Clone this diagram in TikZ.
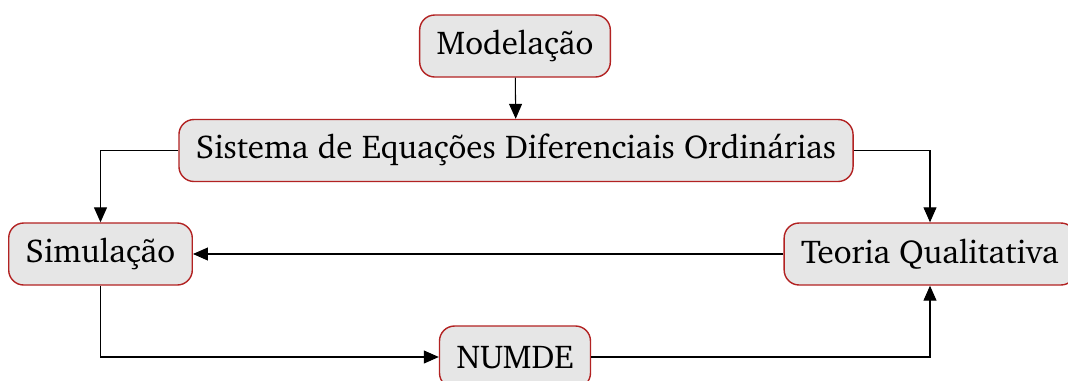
\documentclass[tikz,border=0pt]{standalone}
\usepackage[T1]{fontenc}
\usepackage{charter}
\usetikzlibrary{arrows.meta}

\definecolor{caixafundo}{HTML}{E6E6E6}
\definecolor{caixaborda}{HTML}{B22222}

\tikzset{
  caixa/.style={draw=caixaborda, fill=caixafundo, line width=0.8pt,
    rounded corners=0.3cm, minimum height=1.24cm, inner xsep=0.34cm,
    font=\fontsize{18.8}{22}\selectfont},
  seta/.style={-{Triangle[length=0.3cm,width=0.26cm]}, line width=0.6pt},
}

\begin{document}
\begin{tikzpicture}[x=0.02cm, y=-0.02cm]
\useasboundingbox (0,0) rectangle (1068,380);

% Caixas
\node[caixa] (modelacao) at (515,46) {Modelação};
\node[caixa] (sistema) at (516,150.5) {Sistema de Equações Diferenciais Ordinárias};
\node[caixa] (simulacao) at (100.5,254) {Simulação};
\node[caixa] (teoria) at (930,254) {Teoria Qualitativa};
\node[caixa] (numde) at (515,357) {NUMDE};

% Ligações
\draw[seta] (modelacao) -- (sistema);
\draw[seta] (sistema.west) -| (simulacao.north);
\draw[seta] (sistema.east) -| (teoria.north);
\draw[seta] (teoria.west) -- (simulacao.east);
\draw[seta] (simulacao.south) |- (numde.west);
\draw[seta] (numde.east) -| (teoria.south);
\end{tikzpicture}
\end{document}
